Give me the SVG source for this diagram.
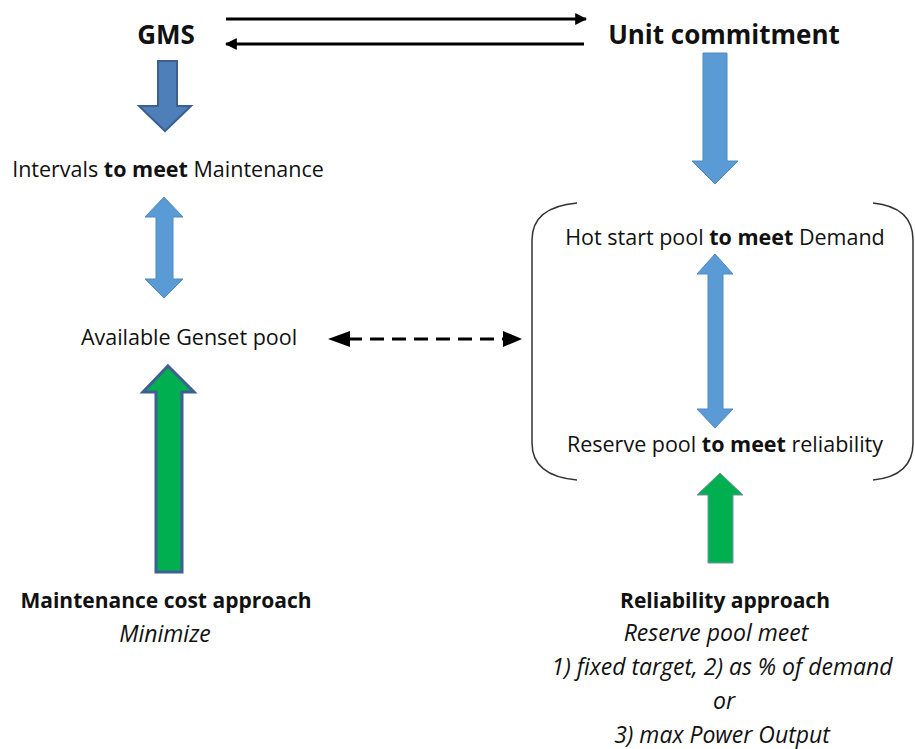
<svg xmlns="http://www.w3.org/2000/svg" width="915" height="749" viewBox="0 0 915 749">
<style>
text{font-family:"Open Sans","Liberation Sans",sans-serif;fill:#111;}
.t{font-size:21.5px;}
.title{font-size:26px;font-weight:bold;}
.b{font-weight:bold;}
.bt{font-size:21px;font-weight:bold;}
.i{font-size:23px;font-style:italic;}
.blue{fill:#5b9bd5;stroke:#4f89c0;stroke-width:1;}
.dblue{fill:#4f7fb8;stroke:#3a5f90;stroke-width:2;}
.green{fill:#00b050;}
.conn{stroke:#000;stroke-width:3;fill:none;}
.bracket{stroke:#333;stroke-width:1.5;fill:none;}
</style>
<defs>
<marker id="ah" viewBox="0 0 10 10" refX="9" refY="5" markerWidth="4" markerHeight="4" orient="auto-start-reverse" markerUnits="strokeWidth">
<path d="M0,0 L10,5 L0,10 z" fill="#000"/>
</marker>
</defs>
<g id="connectors">
<line class="conn" x1="226" y1="19" x2="586" y2="19" marker-end="url(#ah)"/>
<line class="conn" x1="584" y1="44" x2="226" y2="44" marker-end="url(#ah)"/>
<line class="conn" x1="348" y1="339" x2="506" y2="339" stroke-width="5" stroke-dasharray="14,8"/>
<polygon points="328,339 350,331 350,347" fill="#000"/>
<polygon points="522,339 503,331 503,347" fill="#000"/>
<path class="dblue" d="M158,61 H177 V106 H191 L165,131 L139,106 H158 Z"/>
<path class="blue" d="M164,197 L183,217 H173 V279 H183 L164,298 L145,279 H156 V217 H145 Z"/>
<path class="green" stroke="#3d5f92" stroke-width="3" d="M168,366 L194,392 H182 V572 H156 V392 H143 Z"/>
<path class="blue" d="M703,53 H727 V161 H738 L715,184 L692,161 H703 Z"/>
<path class="blue" d="M715,254 L733,274 H723 V409 H733 L715,428 L697,409 H708 V274 H697 Z"/>
<path class="green" stroke="#7a8fa8" stroke-width="1" d="M720,473 L743,495 H733 V563 H708 V495 H697 Z"/>
</g>
<g id="gms"><text class="title" x="166" y="44" text-anchor="middle">GMS</text></g>
<g id="unit-commitment"><text class="title" x="724" y="44" text-anchor="middle">Unit commitment</text></g>
<g id="intervals"><text class="t" x="168" y="177" text-anchor="middle">Intervals <tspan class="b">to meet</tspan> Maintenance</text></g>
<g id="available"><text class="t" x="189" y="345" text-anchor="middle">Available Genset pool</text></g>
<g id="pools">
<path class="bracket" d="M577,203 Q532,207 532,240 V443 Q532,476 577,480"/>
<path class="bracket" d="M873,203 Q913,207 913,240 V443 Q913,476 873,480"/>
<text class="t" x="725" y="245" text-anchor="middle">Hot start pool <tspan class="b">to meet</tspan> Demand</text>
<text class="t" x="725" y="452" text-anchor="middle">Reserve pool <tspan class="b">to meet</tspan> reliability</text>
</g>
<g id="maintenance">
<text class="bt" x="166" y="608" text-anchor="middle">Maintenance cost approach</text>
<text class="i" x="165" y="642" text-anchor="middle">Minimize</text>
</g>
<g id="reliability">
<text class="bt" x="725" y="608" text-anchor="middle">Reliability approach</text>
<text class="i" x="716" y="641" text-anchor="middle">Reserve pool meet</text>
<text class="i" x="722" y="675" text-anchor="middle">1) fixed target, 2) as % of demand</text>
<text class="i" x="724" y="709" text-anchor="middle">or</text>
<text class="i" x="722" y="743" text-anchor="middle">3) max Power Output</text>
</g>
</svg>
